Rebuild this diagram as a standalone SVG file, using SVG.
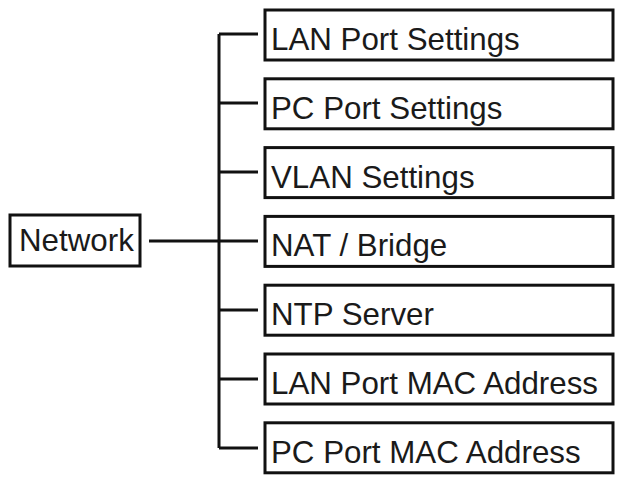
<svg xmlns="http://www.w3.org/2000/svg" width="620" height="478" viewBox="0 0 620 478">
<style>
.box{fill:#fff;stroke:#111;stroke-width:3}
.t{font-family:"Liberation Sans",Arial,sans-serif;font-size:31.3px;fill:#1a1a1a}
.c{fill:none;stroke:#111;stroke-width:3}
</style>
<rect width="620" height="478" fill="#fff"/>
<g id="connectors">
<path class="c" d="M219 34V448"/>
<path class="c" d="M219 34H258M219 103H258M219 172H258M149 241H258M219 310H258M219 379H258M219 448H258"/>
</g>
<g id="network"><rect class="box" x="10" y="215" width="130" height="51"/><text class="t" x="19" y="251">Network</text></g>
<g id="n1"><rect class="box" x="265" y="10" width="348" height="50"/><text class="t" x="271" y="50">LAN Port Settings</text></g>
<g id="n2"><rect class="box" x="265" y="78.8" width="348" height="50"/><text class="t" x="271" y="118.8">PC Port Settings</text></g>
<g id="n3"><rect class="box" x="265" y="147.6" width="348" height="50"/><text class="t" x="271" y="187.6">VLAN Settings</text></g>
<g id="n4"><rect class="box" x="265" y="216.4" width="348" height="50"/><text class="t" x="271" y="256.4">NAT / Bridge</text></g>
<g id="n5"><rect class="box" x="265" y="285.2" width="348" height="50"/><text class="t" x="271" y="325.2">NTP Server</text></g>
<g id="n6"><rect class="box" x="265" y="354" width="348" height="50"/><text class="t" x="271" y="394">LAN Port MAC Address</text></g>
<g id="n7"><rect class="box" x="265" y="422.8" width="348" height="50"/><text class="t" x="271" y="462.8">PC Port MAC Address</text></g>
</svg>
